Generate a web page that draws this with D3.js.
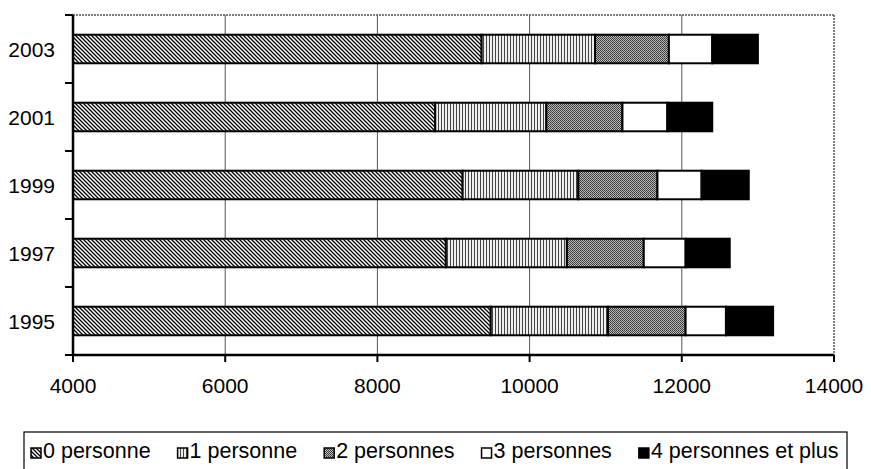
<!DOCTYPE html>
<html>
<head>
<meta charset="utf-8">
<script src="https://cdn.jsdelivr.net/npm/d3@7/dist/d3.min.js"></script>
<style>
body { margin: 0; background: #fff; }
text { font-family: "Liberation Sans", Arial, sans-serif; }
</style>
</head>
<body>
<svg width="871" height="469"></svg>
<script>
var years = ["2003", "2001", "1999", "1997", "1995"];
var seriesNames = ["0 personne", "1 personne", "2 personnes", "3 personnes", "4 personnes et plus"];
var p0 = [9370, 8760, 9120, 8900, 9490];
var p1 = [1490, 1460, 1520, 1590, 1540];
var p2 = [970, 1000, 1040, 1010, 1020];
var p3 = [570, 590, 580, 550, 530];
var p4 = [600, 590, 620, 580, 620];
var xTicks = [4000, 6000, 8000, 10000, 12000, 14000];

var svg = d3.select("svg");
var pLeft = 73, pRight = 834, pTop = 15, pBottom = 355;

var x = d3.scaleLinear().domain([4000, 14000]).range([pLeft, pRight]);
var y = d3.scaleBand().domain(years).range([pTop, pBottom]).paddingInner(0.58).paddingOuter(0.29);

// patterns
var defs = svg.append("defs");
var pat0 = defs.append("pattern").attr("id", "p0").attr("patternUnits", "userSpaceOnUse")
    .attr("width", 4).attr("height", 4);
pat0.append("rect").attr("width", 4).attr("height", 4).attr("fill", "#fff");
pat0.append("path").attr("d", "M-1,-1 L5,5 M-1,3 L1,5 M3,-1 L5,1").attr("stroke", "#000").attr("stroke-width", 1.3);

var pat1 = defs.append("pattern").attr("id", "p1").attr("patternUnits", "userSpaceOnUse")
    .attr("width", 3).attr("height", 3);
pat1.append("rect").attr("width", 3).attr("height", 3).attr("fill", "#eee");
pat1.append("rect").attr("x", 0).attr("width", 1).attr("height", 3).attr("fill", "#444");

var pat2 = defs.append("pattern").attr("id", "p2").attr("patternUnits", "userSpaceOnUse")
    .attr("width", 2).attr("height", 2);
pat2.append("rect").attr("width", 2).attr("height", 2).attr("fill", "#bbb");
pat2.append("rect").attr("width", 1).attr("height", 1).attr("fill", "#333");
pat2.append("rect").attr("x", 1).attr("y", 1).attr("width", 1).attr("height", 1).attr("fill", "#444");

var fills = ["url(#p0)", "url(#p1)", "url(#p2)", "#fff", "#000"];

// frame top/right (dotted grey)
svg.append("line").attr("x1", pLeft).attr("x2", pRight).attr("y1", pTop).attr("y2", pTop)
    .attr("stroke", "#555").attr("stroke-width", 1.5).attr("stroke-dasharray", "2,1");
svg.append("line").attr("x1", pRight).attr("x2", pRight).attr("y1", pTop).attr("y2", pBottom)
    .attr("stroke", "#555").attr("stroke-width", 1.5).attr("stroke-dasharray", "2,1");

// grid lines
svg.selectAll(".grid").data(xTicks.slice(1, -1)).enter().append("line")
    .attr("x1", function(d) { return x(d); })
    .attr("x2", function(d) { return x(d); })
    .attr("y1", pTop).attr("y2", pBottom)
    .attr("stroke", "#555").attr("stroke-width", 1);

// stacked bars
var rows = years.map(function(yr, i) {
    return { year: yr, vals: [p0[i], p1[i], p2[i], p3[i], p4[i]] };
});
rows.forEach(function(r) {
    var cum = 0;
    r.vals.forEach(function(v, k) {
        var x0 = Math.max(cum, 4000), x1 = cum + v;
        cum += v;
        svg.append("rect")
            .attr("x", x(x0))
            .attr("y", y(r.year))
            .attr("width", x(x1) - x(x0))
            .attr("height", y.bandwidth())
            .attr("fill", fills[k])
            .attr("stroke", "#000")
            .attr("stroke-width", 2);
    });
});

// y axis
var yAxis = svg.append("g").attr("transform", "translate(" + pLeft + ",0)");
yAxis.append("line").attr("x1", 0).attr("x2", 0).attr("y1", pTop).attr("y2", pBottom)
    .attr("stroke", "#000").attr("stroke-width", 2.5);
var bticks = d3.range(years.length + 1).map(function(i) { return pTop + i * y.step(); });
yAxis.selectAll(".yt").data(bticks).enter().append("line")
    .attr("x1", -8).attr("x2", 0)
    .attr("y1", function(d) { return d; }).attr("y2", function(d) { return d; })
    .attr("stroke", "#000").attr("stroke-width", 2);
yAxis.selectAll(".yl").data(years).enter().append("text")
    .attr("x", -18)
    .attr("y", function(d) { return y(d) + y.bandwidth() / 2; })
    .attr("dy", "0.36em")
    .attr("text-anchor", "end")
    .attr("font-size", 21)
    .text(function(d) { return d; });

// x axis
var xAxis = svg.append("g").attr("transform", "translate(0," + pBottom + ")");
xAxis.append("line").attr("x1", pLeft).attr("x2", pRight).attr("y1", 0).attr("y2", 0)
    .attr("stroke", "#000").attr("stroke-width", 2.5);
xAxis.selectAll(".xt").data(xTicks).enter().append("line")
    .attr("x1", function(d) { return x(d); }).attr("x2", function(d) { return x(d); })
    .attr("y1", 0).attr("y2", 7)
    .attr("stroke", "#000").attr("stroke-width", 2);
xAxis.selectAll(".xl").data(xTicks).enter().append("text")
    .attr("x", function(d) { return x(d); })
    .attr("y", 38)
    .attr("text-anchor", "middle")
    .attr("font-size", 21)
    .text(function(d) { return d; });

// legend
var lg = svg.append("g");
lg.append("rect").attr("x", 24).attr("y", 432).attr("width", 823).attr("height", 45)
    .attr("fill", "#fff").attr("stroke", "#000").attr("stroke-width", 1.2);
var lx = 31;
seriesNames.forEach(function(name, k) {
    lg.append("rect").attr("x", lx).attr("y", 448).attr("width", 10).attr("height", 10)
        .attr("fill", fills[k]).attr("stroke", "#000").attr("stroke-width", 1.5);
    var t = lg.append("text").attr("x", lx + 12).attr("y", 458).attr("font-size", 21.5).text(name);
    lx += 12 + t.node().getComputedTextLength() + 27;
});
</script>
</body>
</html>
